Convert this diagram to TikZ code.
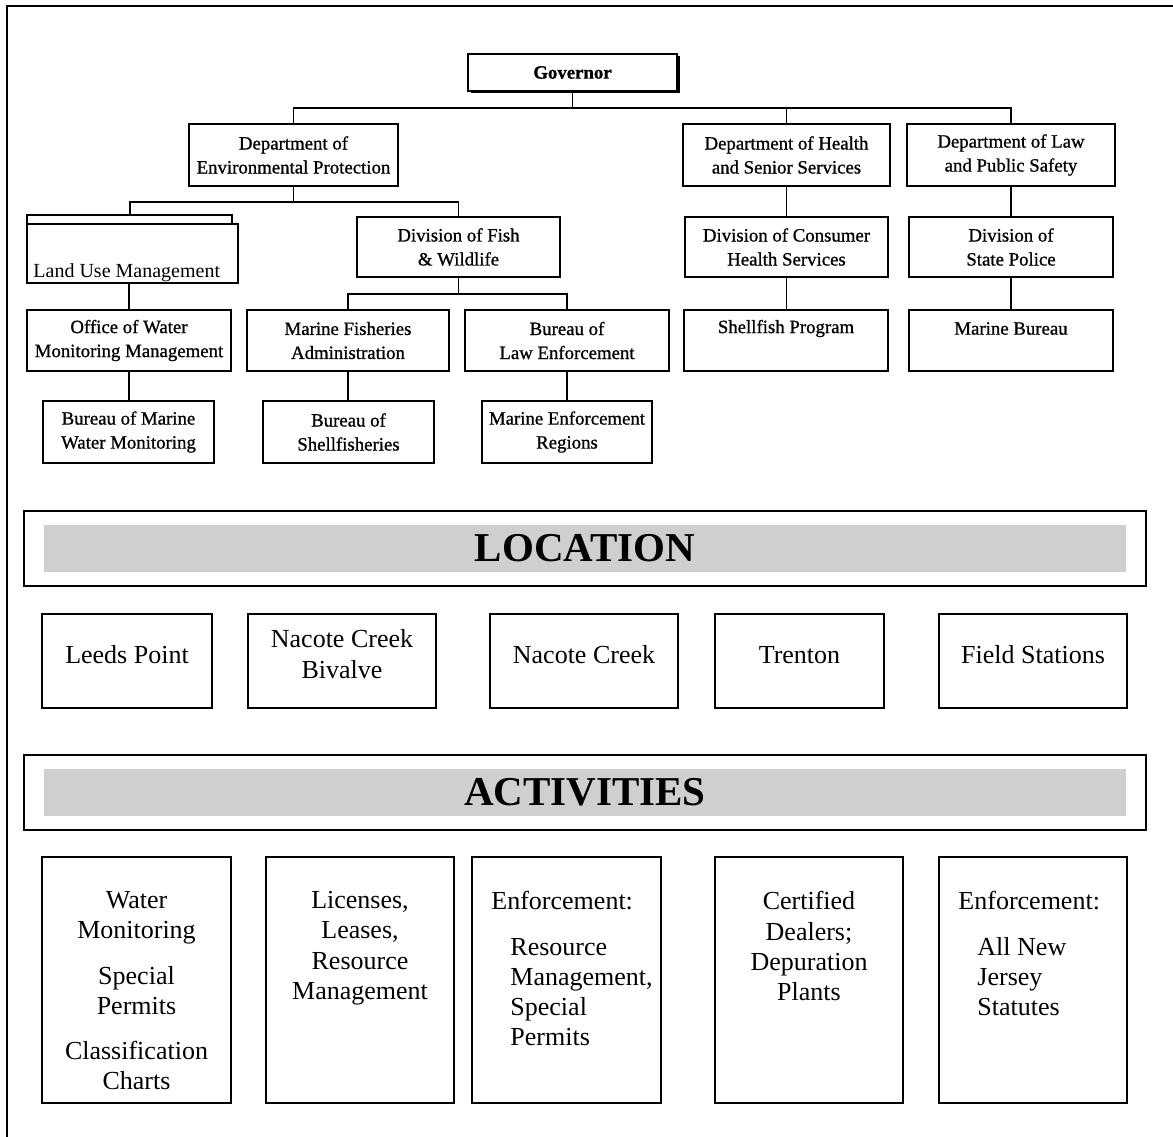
\documentclass[tikz,border=0pt]{standalone}
\usepackage{fontspec}
\setmainfont{Liberation Serif}
\newfontfamily\treefamily[FakeBold=0.9]{Liberation Serif}
\usetikzlibrary{shadows}
\newcommand{\treefont}{\treefamily\fontsize{18.8}{24}\selectfont}
\newcommand{\sitefont}{\fontsize{26}{30.3}\selectfont}
\newcommand{\barfont}{\fontsize{41}{46}\selectfont\bfseries}
\newcommand{\indentline}{\hspace*{19pt}}

\begin{document}
\begin{tikzpicture}[x=1pt,y=-1pt,
	unit/.style={draw, line width=1.5pt, minimum width=204pt, minimum height=61pt, inner sep=2pt, align=center, font=\treefont},
	subunit/.style={unit, minimum width=171pt, minimum height=62pt},
	site/.style={draw, line width=1.5pt, minimum height=94pt, text depth=14pt, align=center, font=\sitefont},
	task/.style={draw, line width=1.5pt, minimum width=188pt, minimum height=246pt},
	tasktext/.style={anchor=north, inner sep=0pt, align=center, font=\sitefont},
	bar/.style={draw, line width=1.8pt, minimum width=1122pt, minimum height=75pt, font=\barfont,
		path picture={\fill[black!19] ([xshift=20pt,yshift=-14pt]path picture bounding box.north west) rectangle ([xshift=-20pt,yshift=14pt]path picture bounding box.south east);}},
	link/.style={line width=1.6pt}]
	\useasboundingbox (0,0) rectangle (1173,1137);
	\draw[line width=1.5pt] (7,1137) |- (1173,6);

	% chart of agencies
	\node[unit, minimum width=209pt, minimum height=37pt, font=\treefont\bfseries, fill=white,
		drop shadow={shadow xshift=2.5pt, shadow yshift=-2.5pt, opacity=1, fill=black}] (gov) at (572.5,72.5) {Governor};
	\node[unit, minimum width=209pt, minimum height=62pt] (dep) at (293.5,155) {Department of\\Environmental Protection};
	\node[unit, minimum width=207pt, minimum height=62pt] (hea) at (786.5,155) {Department of Health\\and Senior Services};
	\node[unit, minimum width=208pt, minimum height=62pt] (law) at (1011,155) {Department of Law\\and Public Safety};

	\node[unit, minimum width=211pt, minimum height=59pt] (lum) at (132.5,253.5) {};
	\node[anchor=base west, inner sep=0pt, font=\fontsize{20}{24}\selectfont] (lumtext) at ([xshift=7pt,yshift=6pt]lum.south west) {Land Use Management};
	\draw[link] ([xshift=1pt]lum.north west) -- ++(0,-8) -| ([xshift=-7pt]lum.north east);
	\node[unit, minimum width=203pt, minimum height=60pt] (dfw) at (458.5,247) {Division of Fish\\\& Wildlife};
	\node[unit, minimum width=203pt, minimum height=60pt] (dch) at (786.5,247) {Division of Consumer\\Health Services};
	\node[unit, minimum width=204pt, minimum height=60pt] (dsp) at (1011,247) {Division of\\State Police};

	\node[unit] (owm) at (129,340.5) {Office of Water\\Monitoring Management};
	\node[unit, minimum width=202pt] (mfa) at (348,340.5) {Marine Fisheries\\Administration};
	\node[unit] (ble) at (567,340.5) {Bureau of\\Law Enforcement};
	\node[unit] (shp) at (786,340.5) {Shellfish Program\\\phantom{Program}};
	\node[unit] (mbu) at (1011,340.5) {Marine Bureau\\\phantom{Bureau}};

	\node[subunit] (bmw) at (128.5,432) {Bureau of Marine\\Water Monitoring};
	\node[subunit] (bsh) at (348.5,432) {Bureau of\\Shellfisheries};
	\node[subunit, minimum width=170pt] (mer) at (567,432) {Marine Enforcement\\Regions};

	\draw[link] (gov.south) -- ++(0,16) coordinate (govbus);
	\draw[link] (dep.north) |- (govbus) -| (law.north);
	\draw[link] (hea.north) -- (hea.north |- govbus);
	\draw[link] (dep.south) -- ++(0,15.5) coordinate (depbus);
	\coordinate (lumtab) at ([xshift=-2.5pt,yshift=8pt]lum.north);
	\draw[link] (lumtab) |- (depbus) -| (dfw.north);
	\draw[link] (owm.north) -- (owm.north |- lum.south);
	\draw[link] (dfw.south) -- ++(0,16) coordinate (dfwbus);
	\draw[link] (mfa.north) |- (dfwbus) -| (ble.north);
	\draw[link] (hea.south) -- (dch.north);
	\draw[link] (dch.south) -- (dch.south |- shp.north);
	\draw[link] (law.south) -- (dsp.north);
	\draw[link] (dsp.south) -- (mbu.north);
	\draw[link] (owm.south) -- (owm.south |- bmw.north);
	\draw[link] (mfa.south) -- (mfa.south |- bsh.north);
	\draw[link] (ble.south) -- (ble.south |- mer.north);

	% locations
	\node[bar] (locbar) at (585,548.5) {LOCATION};
	\node[site, minimum width=170pt] (leeds) at (127,661) {Leeds Point};
	\node[site, minimum width=188pt] (bivalve) at (342,661) {Nacote Creek\\Bivalve};
	\node[site, minimum width=188pt] (nacote) at (584,661) {Nacote Creek};
	\node[site, minimum width=169pt] (trenton) at (799.5,661) {\vphantom{d}Trenton};
	\node[site, minimum width=188pt] (field) at (1033,661) {Field Stations};

	% activities
	\node[bar] (actbar) at (585,792.5) {ACTIVITIES};
	\node[task, minimum width=189pt] (monitor) at (136.5,980) {};
	\node[task] (license) at (360,980) {};
	\node[task, minimum width=189pt] (patrol) at (566.5,980) {};
	\node[task] (dealer) at (809,980) {};
	\node[task] (statute) at (1033,980) {};

	\node[tasktext] (monitortext) at ([yshift=-35pt]monitor.north) {Water\\Monitoring\\[15pt]Special\\Permits\\[15pt]Classification\\Charts};
	\node[tasktext] (licensetext) at ([yshift=-35pt]license.north) {Licenses,\\Leases,\\Resource\\Management};
	\node[tasktext, anchor=north west, align=left] (patroltext) at ([xshift=20pt,yshift=-35pt]patrol.north west)
		{Enforcement:\\[15pt]\indentline Resource\\\indentline Management,\\\indentline Special\\\indentline Permits};
	\node[tasktext] (dealertext) at ([yshift=-35pt]dealer.north) {Certified\\Dealers;\\Depuration\\Plants};
	\node[tasktext, anchor=north west, align=left] (statutetext) at ([xshift=20pt,yshift=-35pt]statute.north west)
		{Enforcement:\\[15pt]\indentline All New\\\indentline Jersey\\\indentline Statutes};
\end{tikzpicture}
\end{document}
